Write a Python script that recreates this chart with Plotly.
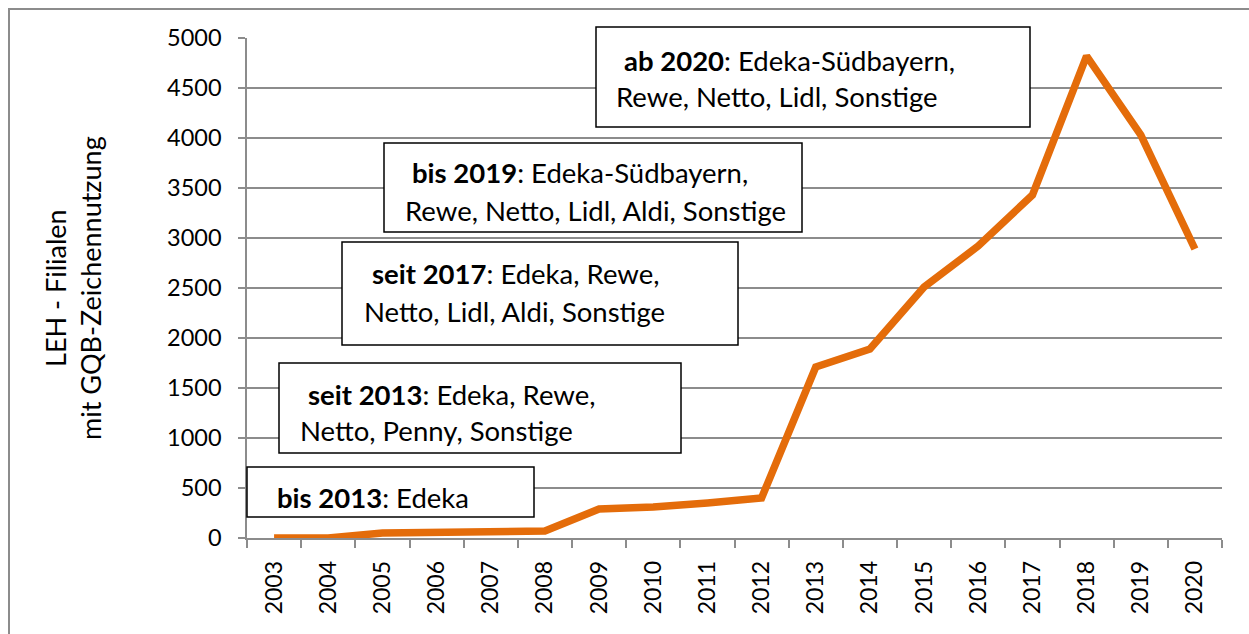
import plotly.graph_objects as go

years = list(range(2003, 2021))
year_labels = [str(y) for y in years]
filialen = [0, 0, 50, 55, 65, 70, 290, 310, 350, 400, 1710, 1890, 2510, 2920, 3430, 4820, 4030, 2890]
y_ticks = [0, 500, 1000, 1500, 2000, 2500, 3000, 3500, 4000, 4500, 5000]

W, H = 1249, 634
L, R, T, B = 247, 1222, 38, 538
FONT = "Lato"
ORANGE = "#E46C0A"
GRID = "#8c8c8c"


def px(x):
    return (x - L) / (R - L)


def py(y):
    return (B - y) / (B - T)


fig = go.Figure()
fig.add_trace(go.Scatter(
    x=years, y=filialen, mode="lines",
    line=dict(color=ORANGE, width=7.5),
    showlegend=False, hoverinfo="skip",
))

fig.update_layout(
    width=W, height=H,
    margin=dict(l=L, r=W - R, t=T, b=H - B),
    paper_bgcolor="white", plot_bgcolor="white",
    font=dict(family=FONT, color="black"),
    showlegend=False,
)

fig.update_xaxes(
    range=[2002.5, 2020.5],
    tickmode="array", tickvals=years, ticktext=year_labels,
    tickangle=-90, ticks="", ticklen=0,
    tickfont=dict(family=FONT, size=23, color="black"),
    ticklabelstandoff=12,
    showgrid=False, zeroline=False,
    showline=True, linecolor=GRID, linewidth=1.5,
    minor=dict(tickvals=[y - 0.5 for y in years] + [2020.5], ticks="outside",
               ticklen=8, tickcolor=GRID, tickwidth=1.5, showgrid=False),
)

fig.update_yaxes(
    range=[0, 5000],
    tickmode="array", tickvals=y_ticks, ticktext=[str(v) for v in y_ticks],
    ticks="outside", ticklen=7, tickcolor=GRID, tickwidth=1.5,
    tickfont=dict(family=FONT, size=23.5, color="black"),
    ticklabelstandoff=12,
    showgrid=True, gridcolor=GRID, gridwidth=1.5,
    zeroline=False,
    showline=True, linecolor=GRID, linewidth=1.5,
)

# outer chart border
shapes = [dict(type="rect", xref="paper", yref="paper",
               x0=px(9), x1=px(1270), y0=py(660), y1=py(9),
               line=dict(color=GRID, width=2), fillcolor="rgba(0,0,0,0)", layer="below")]

boxes = [
    (596, 27, 1030, 127),
    (384, 143, 802, 232),
    (342, 242, 738, 345),
    (279, 363, 681, 453),
    (247, 467, 534, 517),
]
for x0, y0, x1, y1 in boxes:
    shapes.append(dict(type="rect", xref="paper", yref="paper",
                       x0=px(x0), x1=px(x1), y0=py(y1), y1=py(y0),
                       line=dict(color="black", width=1.5), fillcolor="white", layer="above"))

lines = [
    (622, 60, "<b>ab 2020</b>: Edeka-Südbayern,"),
    (614, 96, "Rewe, Netto, Lidl, Sonstige"),
    (410, 172, "<b>bis 2019</b>: Edeka-Südbayern,"),
    (403, 210, "Rewe, Netto, Lidl, Aldi, Sonstige"),
    (370, 273, "<b>seit 2017</b>: Edeka, Rewe,"),
    (362, 311, "Netto, Lidl, Aldi, Sonstige"),
    (306, 394, "<b>seit 2013</b>: Edeka, Rewe,"),
    (298, 430, "Netto, Penny, Sonstige"),
    (275, 497, "<b>bis 2013</b>: Edeka"),
]
annotations = []
for x, y, t in lines:
    annotations.append(dict(xref="paper", yref="paper", x=px(x), y=py(y),
                            xanchor="left", yanchor="middle", showarrow=False,
                            text=t, font=dict(family=FONT, size=27.5, color="black")))

annotations.append(dict(xref="paper", yref="paper", x=px(73), y=py(288),
                        xanchor="center", yanchor="middle", showarrow=False,
                        textangle=-90,
                        text="LEH - Filialen<br>mit GQB-Zeichennutzung",
                        font=dict(family=FONT, size=27, color="black")))

fig.update_layout(shapes=shapes, annotations=annotations)
fig.write_html("out.html", config={"displayModeBar": False},
               post_script="document.body.style.margin='0';document.body.style.padding='0';")
